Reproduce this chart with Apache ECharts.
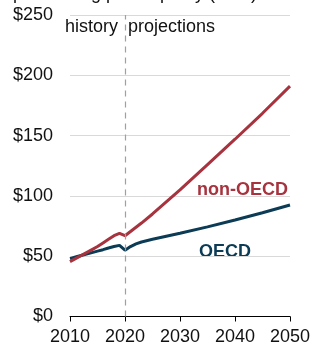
<!DOCTYPE html>
<html><head><meta charset="utf-8">
<script src="https://cdn.jsdelivr.net/npm/echarts@6/dist/echarts.min.js"></script>
<style>html,body{margin:0;padding:0;background:#fff}#c{width:326px;height:353px}</style>
</head><body><div id="c"></div>
<script>
const years   = [2010,2011,2012,2013,2014,2015,2016,2017,2018,2019,2020,2021,2022,2023,2025,2030,2035,2040,2045,2050];
const oecd    = [48,49.3,50.6,51.8,53,54.2,55.4,56.8,58,59,55,58,60.2,61.8,64,69,74.3,80,86,92.5];
const nonOecd = [45.5,48,50.5,53,55.5,58,61,64,67,69,67,70.5,74,77.5,85,105,126,147,168.5,191];
const yTicks  = ['$0','$50','$100','$150','$200','$250'];
const divider = 2020;

const chart = echarts.init(document.getElementById('c'));
const font = 'Liberation Sans, Arial, sans-serif';
chart.setOption({
  animation:false,
  grid:{left:70,right:36,top:15,bottom:36.5},
  xAxis:{type:'value',min:2010,max:2050,interval:10,
    axisLine:{lineStyle:{color:'#000',width:1}},
    axisTick:{show:true,length:5,lineStyle:{color:'#000'}},
    axisLabel:{color:'#111',fontSize:18,fontFamily:font,margin:12,formatter:v=>String(v)},
    splitLine:{show:false}},
  yAxis:{type:'value',min:0,max:250,interval:50,
    axisLine:{show:false},axisTick:{show:false},
    axisLabel:{color:'#111',fontSize:18,fontFamily:font,margin:17,formatter:v=>yTicks[v/50]},
    splitLine:{lineStyle:{color:'#d9d9d9',width:1}}},
  series:[
    {type:'line',name:'OECD',data:years.map((y,i)=>[y,oecd[i]]),showSymbol:false,
      lineStyle:{color:'#0b3b55',width:3},z:3,
      markLine:{silent:true,symbol:['none','none'],label:{show:false},
        lineStyle:{color:'#a0a0a0',type:[6,5],width:1.2},
        data:[{xAxis:divider}]}},
    {type:'line',name:'non-OECD',data:years.map((y,i)=>[y,nonOecd[i]]),showSymbol:false,
      lineStyle:{color:'#a7333f',width:3},z:4}
  ],
  graphic:[
    {type:'text',left:13,top:-15,style:{text:'purchasing power parity (PPP)',fontSize:18,fontFamily:font,fill:'#111'}},
    {type:'text',left:65,top:18,style:{text:'history',fontSize:18,fontFamily:font,fill:'#111'}},
    {type:'text',left:128,top:18,style:{text:'projections',fontSize:18,fontFamily:font,fill:'#111'}},
    {type:'text',left:197,top:181,style:{text:'non-OECD',fontSize:18,fontWeight:'bold',fontFamily:font,fill:'#a7333f'}},
    {type:'text',left:199,top:243,style:{text:'OECD',fontSize:18,fontWeight:'bold',fontFamily:font,fill:'#0b3b55'}}
  ]
});
</script></body></html>
